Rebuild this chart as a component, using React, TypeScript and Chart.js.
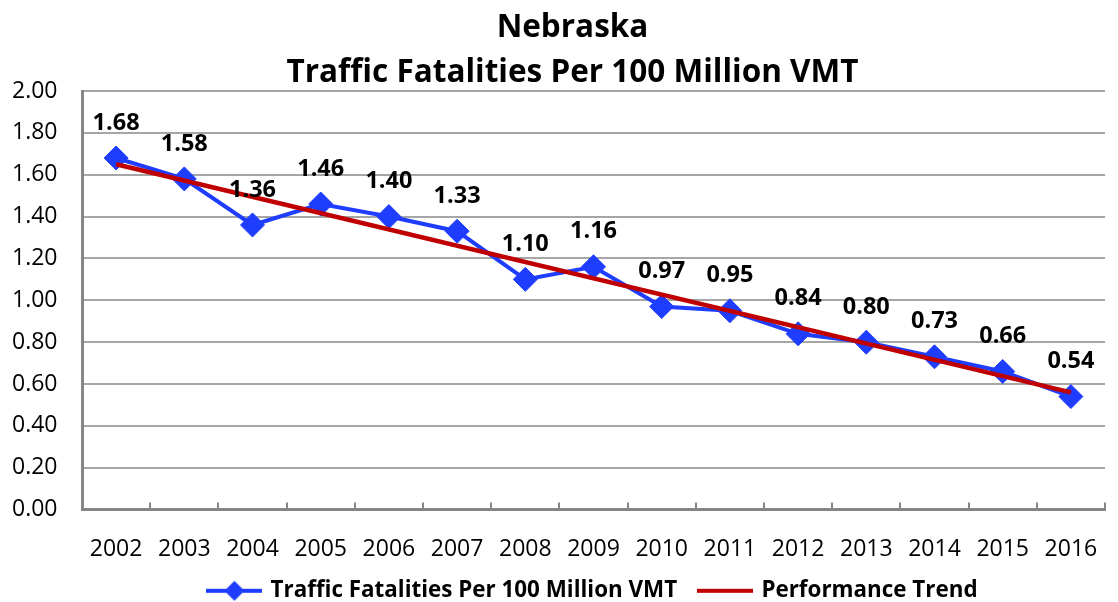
import React, { useEffect, useRef } from 'react';
import { Chart, registerables } from 'chart.js';

Chart.register(...registerables);

const years = ['2002', '2003', '2004', '2005', '2006', '2007', '2008', '2009', '2010', '2011', '2012', '2013', '2014', '2015', '2016'];
const fatalityRates = [1.68, 1.58, 1.36, 1.46, 1.40, 1.33, 1.10, 1.16, 0.97, 0.95, 0.84, 0.80, 0.73, 0.66, 0.54];
const trendYears = ['2002', '2016'];
const trendValues = [1.65, 0.56];
const titleLines = ['Nebraska', 'Traffic Fatalities Per 100 Million VMT'];
const seriesNames = ['Traffic Fatalities Per 100 Million VMT', 'Performance Trend'];
const seriesColors = ['#1f3dff', '#c00000'];
const yMin = 0;
const yMax = 2;
const yStep = 0.2;

const FONT = '"Open Sans", "Noto Sans", sans-serif';

function makeLegendIcon(color: string, withDiamond: boolean): HTMLCanvasElement {
  const c = document.createElement('canvas');
  c.width = 56;
  c.height = 24;
  const g = c.getContext('2d')!;
  g.strokeStyle = color;
  g.lineWidth = 4;
  g.beginPath();
  g.moveTo(0, 12);
  g.lineTo(56, 12);
  g.stroke();
  if (withDiamond) {
    g.fillStyle = color;
    g.beginPath();
    g.moveTo(28 - 10, 12);
    g.lineTo(28, 2);
    g.lineTo(38, 12);
    g.lineTo(28, 22);
    g.closePath();
    g.fill();
  }
  return c;
}

const dataLabelPlugin = {
  id: 'dataLabels',
  afterDatasetsDraw(chart: any) {
    const meta = chart.getDatasetMeta(0);
    const ctx = chart.ctx;
    ctx.save();
    ctx.font = `bold 23.5px ${FONT}`;
    ctx.fillStyle = '#000000';
    ctx.textAlign = 'center';
    ctx.textBaseline = 'middle';
    meta.data.forEach((pt: any, i: number) => {
      const text = fatalityRates[i].toFixed(2);
      const w = ctx.measureText(text).width;
      let x = pt.x;
      if (x + w / 2 > chart.width - 2) x = chart.width - 2 - w / 2;
      ctx.fillText(text, x, pt.y - 35);
    });
    ctx.restore();
  },
};

export default function App() {
  const canvasRef = useRef<HTMLCanvasElement | null>(null);

  useEffect(() => {
    document.body.style.margin = '0';
    const canvas = canvasRef.current;
    if (!canvas) return;
    const icons = [makeLegendIcon(seriesColors[0], true), makeLegendIcon(seriesColors[1], false)];

    const chart = new Chart(canvas, {
      type: 'line',
      data: {
        labels: years,
        datasets: [
          {
            label: seriesNames[0],
            data: fatalityRates,
            borderColor: seriesColors[0],
            backgroundColor: seriesColors[0],
            borderWidth: 4,
            pointStyle: 'rectRot',
            pointRadius: 12,
            pointHoverRadius: 12,
            pointBorderWidth: 1,
            tension: 0,
            order: 2,
          },
          {
            label: seriesNames[1],
            data: trendYears.map((y, i) => ({ x: y, y: trendValues[i] })),
            borderColor: seriesColors[1],
            backgroundColor: seriesColors[1],
            borderWidth: 4.5,
            pointRadius: 0,
            pointHoverRadius: 0,
            tension: 0,
            order: 1,
          },
        ],
      },
      options: {
        responsive: false,
        animation: false,
        layout: { padding: { left: 30, right: 3, top: 0, bottom: -10 } },
        plugins: {
          title: {
            display: true,
            text: titleLines,
            color: '#000000',
            font: { family: FONT, size: 31.5, weight: 'bold', lineHeight: '45px' },
            padding: { top: 6, bottom: -5 },
          },
          legend: {
            display: true,
            position: 'bottom',
            fullSize: false,
            labels: {
              usePointStyle: true,
              pointStyleWidth: 50,
              color: '#000000',
              padding: 23,
              font: { family: FONT, size: 22.4, weight: 'bold' },
              generateLabels: () =>
                seriesNames.map((name, i) => ({
                  text: name,
                  fillStyle: seriesColors[i],
                  strokeStyle: seriesColors[i],
                  lineWidth: 0,
                  pointStyle: icons[i] as any,
                  hidden: false,
                  datasetIndex: i,
                  fontColor: '#000000',
                })),
            },
          },
          tooltip: { enabled: false },
        },
        scales: {
          x: {
            type: 'category',
            offset: true,
            grid: {
              display: true,
              offset: true,
              drawOnChartArea: false,
              drawTicks: true,
              tickLength: -7,
              color: '#868686',
              lineWidth: 2,
            },
            border: { display: true, color: '#868686', width: 3 },
            ticks: {
              color: '#000000',
              font: { family: FONT, size: 23, lineHeight: '80px' },
              padding: 7,
              maxRotation: 0,
              autoSkip: false,
            },
            afterFit: (scale: any) => {
              scale.height = 47;
            },
          },
          y: {
            min: yMin,
            max: yMax,
            grid: {
              color: '#a6a6a6',
              lineWidth: 2,
              drawTicks: false,
            },
            border: { display: true, color: '#868686', width: 3 },
            ticks: {
              stepSize: yStep,
              color: '#000000',
              font: { family: FONT, size: 23 },
              mirror: true,
              crossAlign: 'near',
              padding: -70,
              callback: (v: any) => Number(v).toFixed(2),
            },
            afterFit: (scale: any) => {
              scale.width = 52;
            },
          },
        },
      },
      plugins: [dataLabelPlugin],
    });

    return () => {
      chart.destroy();
    };
  }, []);

  return (
    <div style={{ width: 1118, height: 602, background: '#ffffff' }}>
      <canvas ref={canvasRef} width={1118} height={602} style={{ display: 'block' }} />
    </div>
  );
}
